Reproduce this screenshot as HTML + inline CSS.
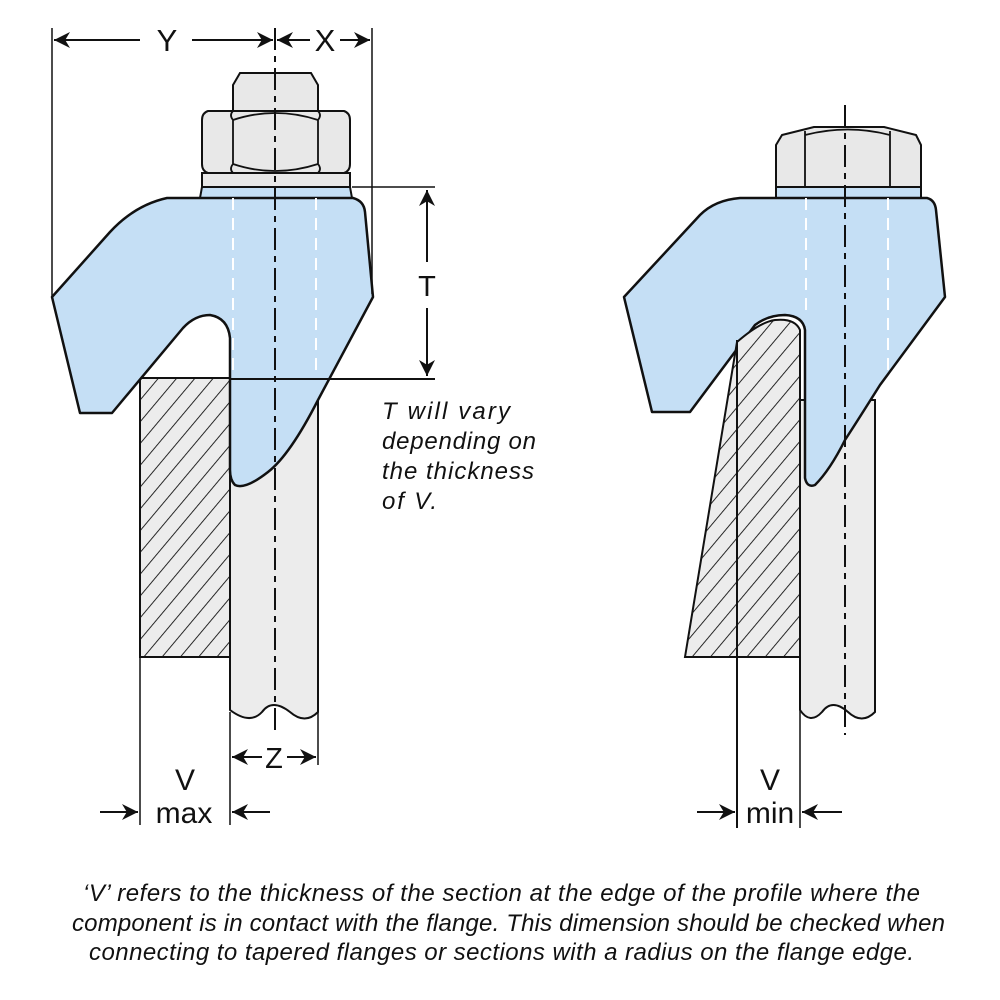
<!DOCTYPE html>
<html><head><meta charset="utf-8"><style>
html,body{margin:0;padding:0;background:#fff}
svg{display:block}
text{font-family:"Liberation Sans",sans-serif;fill:#111}
.it{font-style:italic;font-size:24px}
</style></head><body>
<svg width="1000" height="1000" viewBox="0 0 1000 1000" xmlns="http://www.w3.org/2000/svg">
<defs>
<pattern id="h" width="14" height="14" patternUnits="userSpaceOnUse" patternTransform="rotate(40)">
<rect width="14" height="14" fill="#ececec"/>
<line x1="0" y1="0" x2="0" y2="14" stroke="#111" stroke-width="1.8"/>
</pattern>
<marker id="b" viewBox="0 0 10 10" refX="10" refY="5" markerWidth="16" markerHeight="16" orient="auto-start-reverse" markerUnits="userSpaceOnUse">
<path d="M0,0 L10,5 L0,10 L3,5 z" fill="#111"/>
</marker>
</defs>

<!-- ===== LEFT ===== -->
<path d="M230,378 L318,378 L318,712 Q305,725 290,712 Q272,698 262,712 Q250,725 230,710 Z" fill="#ececec" stroke="#111" stroke-width="2"/>
<rect x="140" y="378" width="90" height="279" fill="url(#h)" stroke="#111" stroke-width="2"/>
<path d="M233,111 L233,85 L240,73 L311,73 L318,85 L318,111 Z" fill="#e8e8e8" stroke="#111" stroke-width="2"/>
<path d="M208,111 L344,111 Q350,113 350,120 L350,164 Q350,171 344,173 L208,173 Q202,171 202,164 L202,120 Q202,113 208,111 Z" fill="#e8e8e8" stroke="#111" stroke-width="2"/>
<path d="M233,111 Q229,115 233,120 L233,164 Q229,169 233,173 M318,111 Q322,115 318,120 L318,164 Q322,169 318,173 M233,120 Q275,106 318,120 M233,164 Q275,178 318,164" fill="none" stroke="#111" stroke-width="1.8"/>
<rect x="202" y="173" width="148" height="14" fill="#e8e8e8" stroke="#111" stroke-width="2"/>
<path d="M202,187 L350,187 L352,198 L200,198 Z" fill="#c5dff5" stroke="#111" stroke-width="2"/>
<path d="M167,198 L353,198 Q364,201 365,212 L373,297 L318,400 Q290,455 268,472 Q245,490 235,485 Q230,480 230,470 L230,338 Q228,318 210,315 Q195,315 183,328 L112,413 L80,413 L52,297 L110,232 Q135,205 167,198 Z" fill="#c5dff5" stroke="#111" stroke-width="2.5" stroke-linejoin="round"/>
<path d="M233,198 L233,378 M316,198 L316,378" stroke="#fff" stroke-width="2" stroke-dasharray="12,8"/>
<line x1="275" y1="28" x2="275" y2="732" stroke="#111" stroke-width="2" stroke-dasharray="22,6,6,6"/>
<line x1="52" y1="28" x2="52" y2="296" stroke="#111" stroke-width="1.5"/>
<line x1="372" y1="28" x2="372" y2="294" stroke="#111" stroke-width="1.5"/>
<line x1="54" y1="40" x2="140" y2="40" stroke="#111" stroke-width="2" marker-start="url(#b)"/>
<line x1="192" y1="40" x2="273" y2="40" stroke="#111" stroke-width="2" marker-end="url(#b)"/>
<line x1="277" y1="40" x2="310" y2="40" stroke="#111" stroke-width="2" marker-start="url(#b)"/>
<line x1="340" y1="40" x2="370" y2="40" stroke="#111" stroke-width="2" marker-end="url(#b)"/>
<text x="167" y="51" font-size="31" text-anchor="middle">Y</text>
<text x="325" y="51" font-size="31" text-anchor="middle">X</text>
<line x1="352" y1="187" x2="435" y2="187" stroke="#111" stroke-width="1.5"/>
<line x1="230" y1="379" x2="435" y2="379" stroke="#111" stroke-width="2"/>
<line x1="427" y1="190" x2="427" y2="262" stroke="#111" stroke-width="2" marker-start="url(#b)"/>
<line x1="427" y1="308" x2="427" y2="376" stroke="#111" stroke-width="2" marker-end="url(#b)"/>
<text x="427" y="296" font-size="29" text-anchor="middle">T</text>
<text class="it" x="382" y="419" textLength="128">T will vary</text>
<text class="it" x="382" y="449" textLength="154">depending on</text>
<text class="it" x="382" y="479" textLength="152">the thickness</text>
<text class="it" x="382" y="509" textLength="55">of V.</text>
<line x1="230" y1="712" x2="230" y2="825" stroke="#111" stroke-width="1.5"/>
<line x1="318" y1="712" x2="318" y2="765" stroke="#111" stroke-width="1.5"/>
<line x1="232" y1="757" x2="262" y2="757" stroke="#111" stroke-width="2" marker-start="url(#b)"/>
<line x1="287" y1="757" x2="316" y2="757" stroke="#111" stroke-width="2" marker-end="url(#b)"/>
<text x="274" y="768" font-size="29" text-anchor="middle">Z</text>
<line x1="140" y1="657" x2="140" y2="825" stroke="#111" stroke-width="1.5"/>
<line x1="100" y1="812" x2="138" y2="812" stroke="#111" stroke-width="2" marker-end="url(#b)"/>
<line x1="270" y1="812" x2="232" y2="812" stroke="#111" stroke-width="2" marker-end="url(#b)"/>
<text x="185" y="790" font-size="30" text-anchor="middle">V</text>
<text x="184" y="823" font-size="30" text-anchor="middle">max</text>

<!-- ===== RIGHT ===== -->
<path d="M800,400 L875,400 L875,712 Q862,725 848,712 Q832,698 822,712 Q810,725 800,710 Z" fill="#ececec" stroke="#111" stroke-width="2"/>
<path d="M782,135 L814,127 L884,127 L916,135 L921,145 L921,187 L776,187 L776,145 Z" fill="#e8e8e8" stroke="#111" stroke-width="2" stroke-linejoin="round"/>
<path d="M805,131 L805,187 M890,131 L890,187 M805,135 Q848,124 890,135" fill="none" stroke="#111" stroke-width="1.8"/>
<path d="M776,187 L921,187 L921,198 L776,198 Z" fill="#c5dff5" stroke="#111" stroke-width="2"/>
<path d="M740,198 L927,198 Q935,200 936,210 L945,297 L880,385 Q858,420 845,440 Q830,470 815,485 Q807,488 805,478 L805,330 Q803,316 785,315 Q768,315 755,325 L690,412 L652,412 L624,297 L700,215 Q715,200 740,198 Z" fill="#c5dff5" stroke="#111" stroke-width="2.5" stroke-linejoin="round"/>
<path d="M800,330 Q795,318 775,320 Q760,322 737,342 L685,657 L800,657 Z" fill="url(#h)" stroke="#111" stroke-width="2"/>
<path d="M806,198 L806,315 M888,198 L888,385" stroke="#fff" stroke-width="2" stroke-dasharray="12,8"/>
<line x1="845" y1="105" x2="845" y2="735" stroke="#111" stroke-width="2" stroke-dasharray="22,6,6,6"/>
<line x1="737" y1="340" x2="737" y2="828" stroke="#111" stroke-width="2"/>
<line x1="800" y1="657" x2="800" y2="828" stroke="#111" stroke-width="1.5"/>
<line x1="697" y1="812" x2="735" y2="812" stroke="#111" stroke-width="2" marker-end="url(#b)"/>
<line x1="842" y1="812" x2="802" y2="812" stroke="#111" stroke-width="2" marker-end="url(#b)"/>
<text x="770" y="790" font-size="30" text-anchor="middle">V</text>
<text x="770" y="823" font-size="30" text-anchor="middle">min</text>

<text class="it" x="83" y="901" textLength="837">‘V’ refers to the thickness of the section at the edge of the profile where the</text>
<text class="it" x="72" y="931" textLength="873">component is in contact with the flange. This dimension should be checked when</text>
<text class="it" x="89" y="960" textLength="825">connecting to tapered flanges or sections with a radius on the flange edge.</text>
</svg>
</body></html>
